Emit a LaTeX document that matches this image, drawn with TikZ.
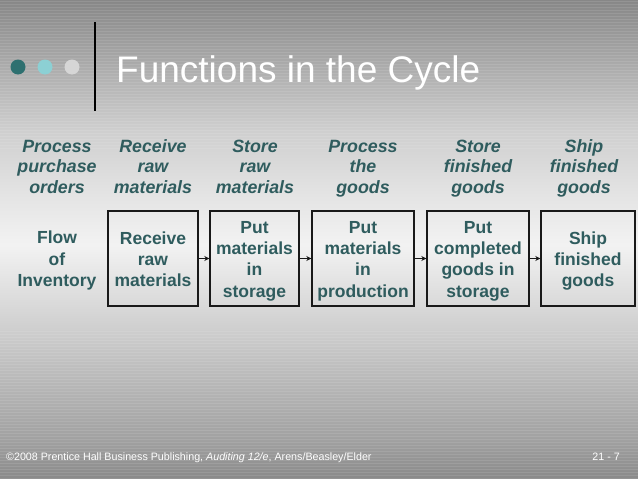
\documentclass[tikz,border=0pt]{standalone}
\usepackage{fontspec}
\setmainfont{Liberation Sans}
\usetikzlibrary{arrows.meta}
\definecolor{tealtext}{RGB}{47,92,94}
\definecolor{dotA}{RGB}{46,112,112}
\definecolor{dotB}{RGB}{140,208,212}
\definecolor{dotC}{RGB}{214,214,214}
\definecolor{boxline}{RGB}{25,25,25}
\pgfdeclareverticalshading{slidebg}{100bp}{
  color(0bp)=(black!46);
  color(25bp)=(black!46);
  color(29.07bp)=(black!37);
  color(36.38bp)=(black!26);
  color(43.68bp)=(black!14);
  color(49.43bp)=(black!5);
  color(54.12bp)=(black!10);
  color(61.43bp)=(black!19);
  color(68.74bp)=(black!34);
  color(75bp)=(black!47);
  color(100bp)=(black!47)}
\newcommand{\firstln}{\rule{0pt}{20pt}}
\tikzset{
  lbl/.style={text=tealtext, font=\bfseries\itshape\fontsize{17.8}{20.5}\selectfont, align=center, inner sep=0pt},
  flowbox/.style={draw=boxline, line width=1.4pt, text=tealtext, font=\bfseries\fontsize{17.5}{21.3}\selectfont, align=center, minimum height=95pt, inner sep=0pt},
  flowtxt/.style={text=tealtext, font=\bfseries\fontsize{17.5}{21.3}\selectfont, align=center, inner sep=0pt},
  arr/.style={-{Stealth[length=5pt,width=5pt]}, line width=1.3pt, draw=boxline},
  foot/.style={text=white, font=\fontsize{10.7}{12}\selectfont, inner sep=0pt},
  stripe/.style={draw=white, draw opacity=0.10, line width=1pt}
}
\begin{document}
\begin{tikzpicture}[x=1pt,y=-1pt]
\useasboundingbox (0,0) rectangle (638,479);
\shade[shading=slidebg] (0,0) rectangle (638,479);
\foreach \yy in {1.5,4.5,...,150} {\draw[stripe] (0,\yy) -- (638,\yy);}
\foreach \yy in {331.5,334.5,...,479} {\draw[stripe] (0,\yy) -- (638,\yy);}
% title decoration
\fill[dotA] (18,67) circle (7.5pt);
\fill[dotB] (45,67) circle (7.5pt);
\fill[dotC] (72,67) circle (7.5pt);
\draw[line width=2.5pt, black] (95,22) -- (95,111);
\node[anchor=base west, text=white, font=\fontsize{37}{40}\selectfont, inner sep=0pt] (title) at (116,82) {Functions in the Cycle};
% top labels
\node[lbl] (l1) at (57,168.4) {Process\strut\\purchase\strut\\orders\strut};
\node[lbl] (l2) at (153,168.4) {Receive\strut\\raw\strut\\materials\strut};
\node[lbl] (l3) at (255,168.4) {Store\strut\\raw\strut\\materials\strut};
\node[lbl] (l4) at (363,168.4) {Process\strut\\the\strut\\goods\strut};
\node[lbl] (l5) at (478,168.4) {Store\strut\\finished\strut\\goods\strut};
\node[lbl] (l6) at (584,168.4) {Ship\strut\\finished\strut\\goods\strut};
% flow row
\node[flowtxt] (flow) at (57,261) {Flow\strut\\of\strut\\Inventory\strut};
\node[flowbox, minimum width=90pt] (b1) at (153,258.5) {\firstln Receive\\raw\strut\\materials\strut};
\node[flowbox, minimum width=89pt] (b2) at (254.5,258.5) {\firstln Put\\materials\strut\\in\strut\\storage\strut};
\node[flowbox, minimum width=102pt] (b3) at (363,258.5) {\firstln Put\\materials\strut\\in\strut\\production\strut};
\node[flowbox, minimum width=102pt] (b4) at (478,258.5) {\firstln Put\\completed\strut\\goods in\strut\\storage\strut};
\node[flowbox, minimum width=94pt] (b5) at (588,258.5) {\firstln Ship\\finished\strut\\goods\strut};
\draw[arr] (b1.east) -- (b2.west);
\draw[arr] (b2.east) -- (b3.west);
\draw[arr] (b3.east) -- (b4.west);
\draw[arr] (b4.east) -- (b5.west);
% footer
\node[foot, anchor=base west] (copy) at (6,460) {©2008 Prentice Hall Business Publishing, \textit{Auditing 12/e}, Arens/Beasley/Elder};
\node[foot, anchor=base east] (page) at (620,460) {21 - 7};
\end{tikzpicture}
\end{document}
